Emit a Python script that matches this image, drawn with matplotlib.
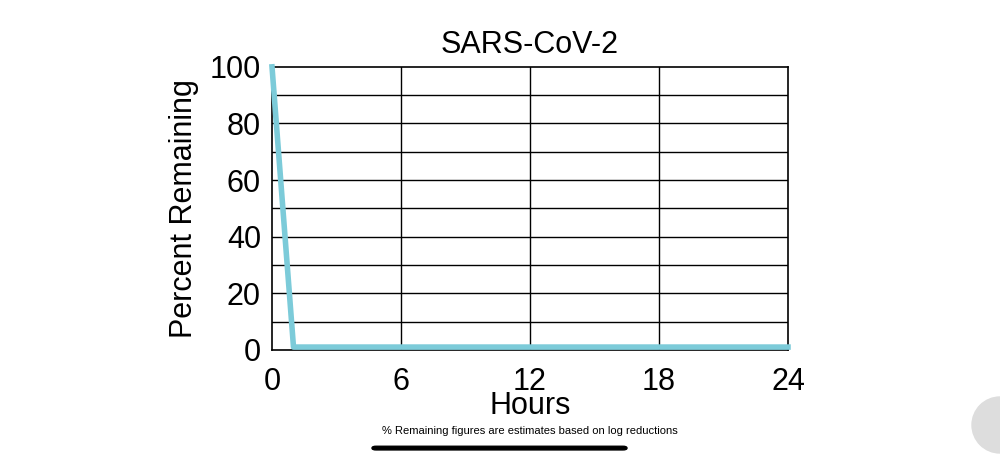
import matplotlib
matplotlib.use("Agg")
import matplotlib.pyplot as plt
from matplotlib.patches import Circle, FancyBboxPatch

plt.rcParams['font.family'] = ['Liberation Sans', 'DejaVu Sans']

hours = [0, 1, 24]
remaining = [100, 1, 1]
xticks = [0, 6, 12, 18, 24]
yticks = [0, 20, 40, 60, 80, 100]

fig = plt.figure(figsize=(10, 4.61), dpi=100)
ax = fig.add_axes([0.272, 0.241, 0.516, 0.614])
ax.set_xlim(0, 24)
ax.set_ylim(0, 100)
for y in range(10, 100, 10):
    ax.axhline(y, color="black", lw=1, zorder=1)
for x in xticks[1:-1]:
    ax.axvline(x, color="black", lw=1, zorder=1)
ax.plot(hours, remaining, color="#7ccbd9", lw=4, zorder=3, clip_on=False)
ax.set_xticks(xticks)
ax.set_yticks(yticks)
ax.tick_params(axis='x', length=0, labelsize=22, pad=12)
ax.tick_params(axis='y', length=0, labelsize=22, pad=8)
for s in ax.spines.values():
    s.set_linewidth(1.2)
ax.set_title("SARS-CoV-2", fontsize=22, pad=10)
ax.set_xlabel("Hours", fontsize=22, labelpad=-4)
ax.set_ylabel("Percent Remaining", fontsize=22, labelpad=8)
fig.text(0.53, 0.058, "% Remaining figures are estimates based on log reductions",
         ha="center", fontsize=8)
fig.patches.append(FancyBboxPatch((0.372, 0.024), 0.255, 0.008, boxstyle="round,pad=0,rounding_size=0.004",
                                  transform=fig.transFigure, color="black", figure=fig))
fig.patches.append(Circle((10.0, 0.36), 0.28, transform=fig.dpi_scale_trans, color="#dddddd", figure=fig))
fig.savefig("out.png", dpi=100)
